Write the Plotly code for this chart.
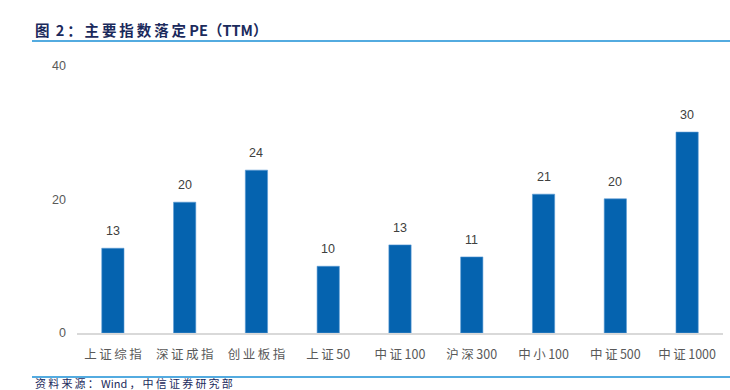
import plotly.graph_objects as go

categories = ["上证综指", "深证成指", "创业板指", "上证50", "中证100", "沪深300", "中小100", "中证500", "中证1000"]
pe_ttm = [12.7, 19.6, 24.4, 10.0, 13.2, 11.4, 20.8, 20.1, 30.1]
y_ticks = [0, 20, 40]

BAR = "#0563AF"
NAVY = "#1B2A5C"
LINE = "#1A8FD6"
FONT = "Liberation Sans, Noto Sans CJK SC, sans-serif"
CJK = "Noto Sans CJK SC, sans-serif"
THIN = "\u2009"


def spaced(s):
    out = ""
    for i, ch in enumerate(s):
        out += ch
        if i < len(s) - 1 and (ord(ch) > 0x2E80 or ord(s[i + 1]) > 0x2E80):
            out += THIN
    return out


fig = go.Figure(go.Bar(
    x=categories, y=pe_ttm,
    marker=dict(color=BAR, line=dict(color="#5B9BD5", width=0.6)),
    hoverinfo="x+y",
))

W0, W1 = 77, 723
T0, B0 = 66, 333


def px(x):
    return (x - W0) / (W1 - W0)


def py(y):
    return (B0 - y) / (B0 - T0)


annotations = [
    dict(x=c, y=v, xref="x", yref="y", text=f"{v:.0f}", showarrow=False,
         yanchor="bottom", yshift=8, font=dict(size=12.5, color="#404040", family=FONT))
    for c, v in zip(categories, pe_ttm)
]
annotations += [
    dict(text="<b>" + spaced("图 2：主要指数落定") + " PE（TTM）</b>", xref="paper", yref="paper",
         x=px(33), y=py(29), xanchor="left", yanchor="middle", showarrow=False,
         font=dict(size=14.5, color=NAVY, family=CJK)),
    dict(text=spaced("资料来源：Wind，中信证券研究部"), xref="paper", yref="paper",
         x=px(33), y=py(383), xanchor="left", yanchor="middle", showarrow=False,
         font=dict(size=11, color=NAVY, family=CJK)),
]

fig.update_layout(
    width=730, height=390,
    margin=dict(l=W0, r=730 - W1, t=T0, b=390 - B0),
    paper_bgcolor="white", plot_bgcolor="white",
    bargap=0.69, showlegend=False,
    font=dict(family=FONT, size=12, color="#595959"),
    xaxis=dict(showline=True, linecolor="#D9D9D9", linewidth=1.5, ticks="",
               tickvals=categories, ticktext=[spaced(c) for c in categories],
               ticklabelstandoff=9,
               tickfont=dict(size=12.5, color="#595959", family=CJK),
               showgrid=False, fixedrange=True),
    yaxis=dict(range=[0, 40], tickvals=y_ticks, showgrid=False, zeroline=False,
               showline=False, ticks="", ticklabelstandoff=10,
               tickfont=dict(size=12.5, color="#595959"), fixedrange=True),
    shapes=[
        dict(type="line", xref="paper", yref="paper", x0=px(32), x1=px(730), y0=py(41), y1=py(41),
             line=dict(color=LINE, width=1.5)),
        dict(type="line", xref="paper", yref="paper", x0=px(32), x1=px(730), y0=py(377), y1=py(377),
             line=dict(color=LINE, width=1.5)),
    ],
    annotations=annotations,
)

fig.write_html("out.html", config={"displayModeBar": False},
               post_script="document.body.style.margin='0';")
